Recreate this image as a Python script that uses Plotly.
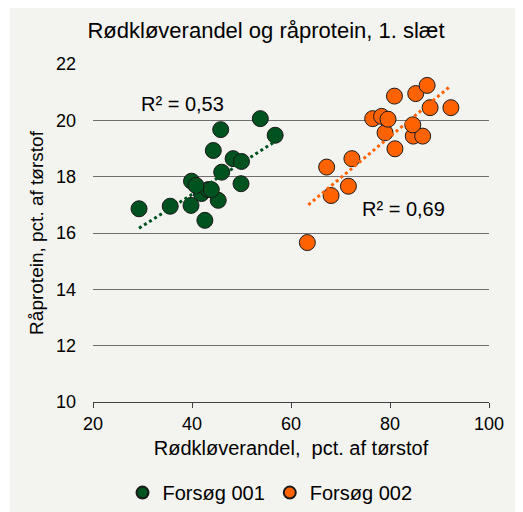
import plotly.graph_objects as go

# ---- data ----
green_x = [29.3, 35.6, 39.8, 42.6, 45.3, 41.9, 43.3, 43.9, 39.9, 40.8, 49.9, 46.0, 48.3, 50.0, 44.3, 45.8, 53.8, 56.8]
green_y = [16.86, 16.95, 16.98, 16.45, 17.16, 17.40, 17.54, 17.54, 17.84, 17.69, 17.75, 18.16, 18.64, 18.54, 18.93, 19.67, 20.06, 19.47]

orange_x = [63.3, 67.2, 68.1, 72.3, 71.6, 81.0, 79.0, 84.7, 86.6, 84.6, 76.5, 78.3, 79.6, 80.9, 85.2, 87.5, 88.1, 92.3]
orange_y = [15.66, 18.34, 17.33, 18.64, 17.66, 18.99, 19.56, 19.44, 19.44, 19.84, 20.06, 20.14, 20.04, 20.86, 20.95, 21.24, 20.45, 20.45]

# linear trendline end points
green_trend_x = [29.3, 56.8]
green_trend_y = [16.17, 19.25]
orange_trend_x = [63.5, 92.3]
orange_trend_y = [17.0, 21.23]

series_names = ["Forsøg 001", "Forsøg 002"]
r2_labels = ["R² = 0,53", "R² = 0,69"]
r2_pos = [(38.1, 20.57), (82.8, 16.87)]

x_ticks = [20, 40, 60, 80, 100]
y_ticks = [10, 12, 14, 16, 18, 20, 22]

title = "Rødkløverandel og råprotein, 1. slæt"
x_title = "Rødkløverandel,  pct. af tørstof"
y_title = "Råprotein, pct. af tørstof"

GREEN = "#00521f"
ORANGE = "#ff6200"
FONT = "Liberation Sans, Arial, sans-serif"

fig = go.Figure()

for xs, ys, name, col in [(green_x, green_y, series_names[0], GREEN),
                          (orange_x, orange_y, series_names[1], ORANGE)]:
    fig.add_trace(go.Scatter(
        x=xs, y=ys, mode="markers", name=name,
        marker=dict(size=16, color=col, line=dict(color="#1a1a1a", width=1)),
    ))

for xs, ys, col in [(green_trend_x, green_trend_y, GREEN), (orange_trend_x, orange_trend_y, ORANGE)]:
    fig.add_trace(go.Scatter(
        x=xs, y=ys, mode="lines", showlegend=False, hoverinfo="skip",
        line=dict(color=col, width=3, dash="dot"),
    ))

for (ax, ay), txt in zip(r2_pos, r2_labels):
    fig.add_annotation(x=ax, y=ay, text=txt, showarrow=False,
                       font=dict(size=20, color="#000000", family=FONT))

fig.add_shape(type="rect", xref="paper", yref="paper",
              x0=-0.2105, x1=1.1, y0=-0.33, y1=1.1708,
              fillcolor="#f3f3ef", line=dict(width=0), layer="below")

W, H = 515, 504
fig.update_layout(
    width=W, height=H,
    margin=dict(l=85, r=34, t=56, b=110, autoexpand=False),
    paper_bgcolor="white",
    plot_bgcolor="rgba(0,0,0,0)",
    font=dict(family=FONT, size=18, color="#000000"),
    title=dict(text=title, x=258 / W, y=1 - 22 / H, xanchor="center", yanchor="middle",
               font=dict(size=22, family=FONT, color="#000000")),
    xaxis=dict(range=[20, 100], tickvals=x_ticks, showgrid=False, zeroline=False,
               showline=True, linecolor="#404040", linewidth=1,
               ticks="outside", ticklen=5, tickcolor="#404040",
               tickfont=dict(size=18),
               title=dict(text=x_title, font=dict(size=20), standoff=8)),
    yaxis=dict(range=[10, 22], tickvals=y_ticks, showgrid=True, gridcolor="#6e6e6e",
               gridwidth=1, zeroline=False, showline=False, ticks="",
               ticklabelstandoff=16,
               tickfont=dict(size=18),
               title=dict(text=y_title, font=dict(size=19), standoff=7)),
    legend=dict(orientation="h", x=0.447, xanchor="center", y=-0.268, yanchor="middle",
                font=dict(size=20), itemsizing="constant", bgcolor="rgba(0,0,0,0)",
                itemwidth=30),
    showlegend=True,
)

fig.write_html("out.html")
